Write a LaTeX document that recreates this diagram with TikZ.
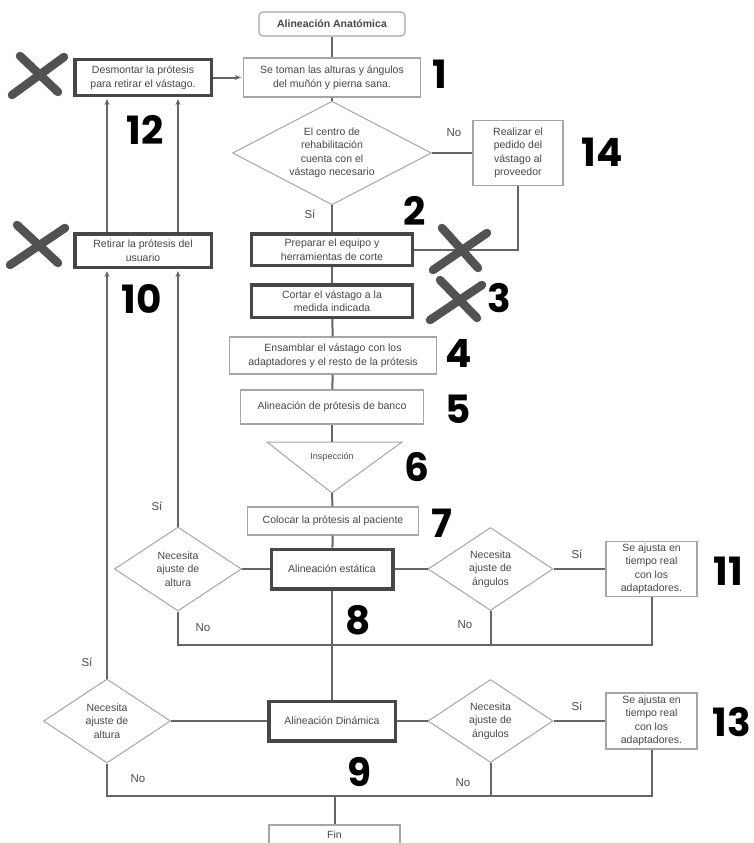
\documentclass[tikz,border=0pt]{standalone}
\usepackage{fontspec}
\setmainfont{Liberation Sans}
\newfontfamily\numfont{Poppins}
\usetikzlibrary{shapes.geometric,arrows.meta}

\newcommand{\boxfont}{\fontsize{10.5}{13.5}\selectfont}

\tikzset{
  plainbox/.style={draw=black!35, line width=1.2pt, fill=white, align=center, font=\boxfont, text=black!72, inner sep=1pt},
  thickbox/.style={draw=black!72, line width=3.5pt, fill=white, align=center, font=\boxfont, text=black!72, inner sep=1pt},
  decision/.style={diamond, draw=black!35, line width=1pt, align=center, font=\boxfont, text=black!72, inner sep=0pt, aspect=1.6},
  link/.style={draw=black!60, line width=2pt},
  linkarrow/.style={link, -{Stealth[length=6pt,width=5pt]}, shorten >=2pt},
  cross/.style={draw=black!68, line width=8.5pt, line cap=round},
  steplabel/.style={font=\numfont\bfseries\fontsize{39}{39}\selectfont},
  answer/.style={font=\fontsize{11.5}{12}\selectfont, text=black!70}
}

\begin{document}
\begin{tikzpicture}[x=1pt,y=-1pt]
    \useasboundingbox (0,0) rectangle (753,843);

    % main column
    \node[plainbox, rounded corners=4pt, font=\boxfont\bfseries, minimum width=146, minimum height=24] (start) at (332,24) {Alineación Anatómica};
    \node[plainbox, minimum width=177, minimum height=39] (box1) at (332,77.5) {Se toman las alturas y ángulos\\del muñón y pierna sana.};
    \node[decision, minimum width=199, minimum height=86] (cent) at (332,153) {El centro de\\rehabilitación\\cuenta con el\\vástago necesario};
    \node[plainbox, minimum width=90, minimum height=65] (box14) at (518,153) {Realizar el\\pedido del\\vástago al\\proveedor};
    \node[thickbox, minimum width=161, minimum height=31.5] (box2) at (332,249.5) {Preparar el equipo y\\herramientas de corte};
    \node[thickbox, minimum width=161, minimum height=32.5] (box3) at (332,301) {Cortar el vástago a la\\medida indicada};
    \node[plainbox, minimum width=207, minimum height=37] (box4) at (333,355.5) {Ensamblar el vástago con los\\adaptadores y el resto de la prótesis};
    \node[plainbox, minimum width=183, minimum height=34] (box5) at (332,407) {Alineación de prótesis de banco};
    \coordinate (triL) at (267,442);
    \coordinate (triR) at (402,442);
    \coordinate (triA) at (332,493);
    \draw[draw=black!35, line width=1pt, fill=white] (triL) -- (triR) -- (triA) -- cycle;
    \node[font=\fontsize{9}{11}\selectfont, text=black!70] (insp) at (332,457) {Inspección};
    \node[plainbox, minimum width=171, minimum height=28] (box7) at (333,521) {Colocar la prótesis al paciente};

    % static alignment row
    \node[thickbox, minimum width=121.5, minimum height=39.5] (box8) at (332,569) {Alineación estática};
    \node[decision, minimum width=127, minimum height=84] (alt8) at (178,569) {Necesita\\ajuste de\\altura};
    \node[decision, minimum width=125, minimum height=83] (ang8) at (490.5,569) {Necesita\\ajuste de\\ángulos};
    \node[plainbox, minimum width=91, minimum height=55] (box11) at (651.5,569) {Se ajusta en\\tiempo real\\con los\\adaptadores.};

    % dynamic alignment row
    \node[thickbox, minimum width=126.5, minimum height=39.5] (box9) at (332,721) {Alineación Dinámica};
    \node[decision, minimum width=127, minimum height=84] (alt9) at (107,721) {Necesita\\ajuste de\\altura};
    \node[decision, minimum width=125, minimum height=83] (ang9) at (490.5,721) {Necesita\\ajuste de\\ángulos};
    \node[plainbox, minimum width=91, minimum height=56] (box13) at (651.5,721) {Se ajusta en\\tiempo real\\con los\\adaptadores.};
    \node[plainbox, minimum width=131, minimum height=20] (fin) at (334.5,835) {Fin};

    % left column
    \node[thickbox, minimum width=136.5, minimum height=35.5] (box12) at (143,77.5) {Desmontar la prótesis\\para retirar el vástago.};
    \node[thickbox, minimum width=136.5, minimum height=33.5] (box10) at (143,250.5) {Retirar la prótesis del\\usuario};

    % connectors
    \draw[link] (start) -- (box1);
    \draw[link] (box1) -- (cent);
    \draw[link] (cent) -- (box2);
    \draw[link] (cent) -- (box14);
    \draw[link] (box14.south) |- (box2.east);
    \draw[link] (box2) -- (box3);
    \draw[link] (box3) -- (box4);
    \draw[link] (box4) -- (box5);
    \draw[link] (box5) -- (box5.south |- triL);
    \draw[link] (triA) -- (box7);
    \draw[link] (box7) -- (box8);
    \draw[link] (box8) -- (box9);
    \draw[link] (box8) -- (alt8);
    \draw[link] (box8) -- (ang8);
    \draw[link] (ang8) -- (box11);
    \draw[link] (box9) -- (alt9);
    \draw[link] (box9) -- (ang9);
    \draw[link] (ang9) -- (box13);

    % joins below the rows
    \coordinate (join8) at (0,645);
    \coordinate (join9) at (0,796);
    \draw[link] (alt8.south) |- (box11.south |- join8) -- (box11.south);
    \draw[link] (ang8.south) -- (ang8.south |- join8);
    \draw[link] (alt9.south) |- (box13.south |- join9) -- (box13.south);
    \draw[link] (ang9.south) -- (ang9.south |- join9);
    \draw[link] (fin.north |- join9) -- (fin.north);

    % way back up to the first step
    \draw[linkarrow] (alt8.north) -- (alt8.north |- box10.south);
    \draw[linkarrow] (alt9.north) -- (alt9.north |- box10.south);
    \draw[linkarrow] (box10.north -| alt8.north) -- (box12.south -| alt8.north);
    \draw[linkarrow] (box10.north -| alt9.north) -- (box12.south -| alt9.north);
    \draw[linkarrow] (box12) -- (box1);

    % answers
    \node[answer] (noC) at (454,133) {No};
    \node[answer] (siC) at (310,214) {Sí};
    \node[answer] (siA8) at (157,506) {Sí};
    \node[answer] (noA8) at (203,628) {No};
    \node[answer] (siG8) at (577,554) {Sí};
    \node[answer] (noG8) at (465,625) {No};
    \node[answer] (siA9) at (87,662) {Sí};
    \node[answer] (noA9) at (138,779) {No};
    \node[answer] (siG9) at (577,706) {Sí};
    \node[answer] (noG9) at (463,783) {No};

    % step numbers
    \node[steplabel] (n1) at (440,74) {1};
    \node[steplabel] (n2) at (415,211) {2};
    \node[steplabel] (n3) at (499,298) {3};
    \node[steplabel] (n4) at (459,353) {4};
    \node[steplabel] (n5) at (458,409) {5};
    \node[steplabel] (n6) at (417,467) {6};
    \node[steplabel] (n7) at (442,523) {7};
    \node[steplabel] (n8) at (358,620) {8};
    \node[steplabel] (n9) at (359,772) {9};
    \node[steplabel] (n10) at (142,299) {10};
    \node[steplabel] (n11) at (728,571) {11};
    \node[steplabel] (n12) at (145,130) {12};
    \node[steplabel] (n13) at (732,722) {13};
    \node[steplabel] (n14) at (602,152) {14};

    % crossed out steps
    \draw[cross] (12,95) -- (64,57);
    \draw[cross] (20,56) -- (58,92);
    \draw[cross] (10,265) -- (65,228);
    \draw[cross] (17,225) -- (58,263);
    \draw[cross] (433,270) -- (487,233);
    \draw[cross] (442,228) -- (478,268);
    \draw[cross] (430,320) -- (482,285);
    \draw[cross] (440,280) -- (477,318);
\end{tikzpicture}
\end{document}
